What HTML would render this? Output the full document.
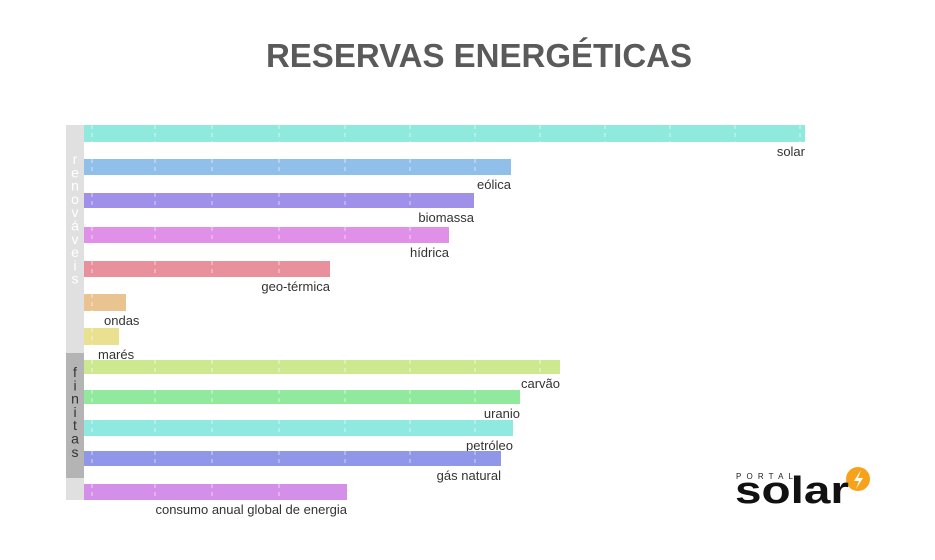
<!DOCTYPE html>
<html><head><meta charset="utf-8"><style>
body{margin:0;background:#fff;width:935px;height:555px;overflow:hidden;font-family:"Liberation Sans",sans-serif}
</style></head><body>
<svg width="935" height="555">
<text x="479" y="67" text-anchor="middle" font-size="33" font-weight="bold" fill="#5a5a5a">RESERVAS ENERGÉTICAS</text>
<rect x="66" y="125" width="18" height="228" fill="#e0e0e0"/>
<rect x="66" y="353" width="18" height="125" fill="#b4b4b4"/>
<rect x="66" y="478" width="18" height="22" fill="#e0e0e0"/>
<g id="side"></g>
<g id="bars"></g>
<g id="logo">
<text x="736" y="479" font-size="8" letter-spacing="5" fill="#222" textLength="62" lengthAdjust="spacing">PORTAL</text>
<circle cx="858" cy="479" r="12" fill="#f7a21b"/>
<path d="M861 470 L854 481 L859 481 L856 489 L863 478 L858 478 Z" fill="#fff"/>
<text x="735" y="503" font-size="38" font-weight="bold" fill="#111" textLength="114" lengthAdjust="spacingAndGlyphs">solar</text>
</g>
</svg>
<script>
const categories=["solar","eólica","biomassa","hídrica","geo-térmica","ondas","marés","carvão","uranio","petróleo","gás natural","consumo anual global de energia"];
const values=[721,427,390,365,246,42,35,476,436,429,417,263];
const colors=["#90e9dd","#90bfe9","#a090e9","#e190e9","#e9909d","#e9c490","#e9e090","#cde990","#90e99d","#90e9e1","#9097e9","#d490e9"];
const barTop=[125,159,193,227,261,294,328,360,390,420,451,484];
const barH=[17,16,15,16,16,17,17,14,14,16,15,16];
const x0=84;
const xs=v=>x0+v;
const ns="http://www.w3.org/2000/svg";
const g=document.getElementById('bars');
const grid=[92,155,212,279,345,410,475,540,605,670,735,800];
categories.forEach((c,i)=>{
  const w=xs(values[i])-x0;
  const r=document.createElementNS(ns,'rect');
  r.setAttribute('x',x0);r.setAttribute('y',barTop[i]);r.setAttribute('width',w);r.setAttribute('height',barH[i]);r.setAttribute('fill',colors[i]);
  
  
  g.appendChild(r);
  grid.forEach(gx=>{ if(gx<xs(values[i])-2){
    const l=document.createElementNS(ns,'line');
    l.setAttribute('x1',gx);l.setAttribute('x2',gx);l.setAttribute('y1',barTop[i]);l.setAttribute('y2',barTop[i]+barH[i]);
    l.setAttribute('stroke','rgba(255,255,255,0.6)');l.setAttribute('stroke-width','1');l.setAttribute('stroke-dasharray','4,4');
    g.appendChild(l);
  }});
  const t=document.createElementNS(ns,'text');
  const small=values[i]<100;
  t.setAttribute('x',small?(i==5?104:98):xs(values[i]));
  t.setAttribute('y',barTop[i]+barH[i]+14);
  t.setAttribute('text-anchor',small?'start':'end');
  t.setAttribute('font-size','13');t.setAttribute('fill','#333');
  t.textContent=c;
  
  
  g.appendChild(t);
});
const side=document.getElementById('side');
function vtext(s,y0,step,col){[...s].forEach((ch,k)=>{const t=document.createElementNS(ns,'text');t.setAttribute('x',75);t.setAttribute('y',y0+k*step);t.setAttribute('text-anchor','middle');t.setAttribute('font-size','14');t.setAttribute('fill',col);t.textContent=ch;side.appendChild(t);});}
vtext("renováveis",164,13.3,"#fff");
vtext("finitas",377,13.3,"#333");
</script>
</body></html>
